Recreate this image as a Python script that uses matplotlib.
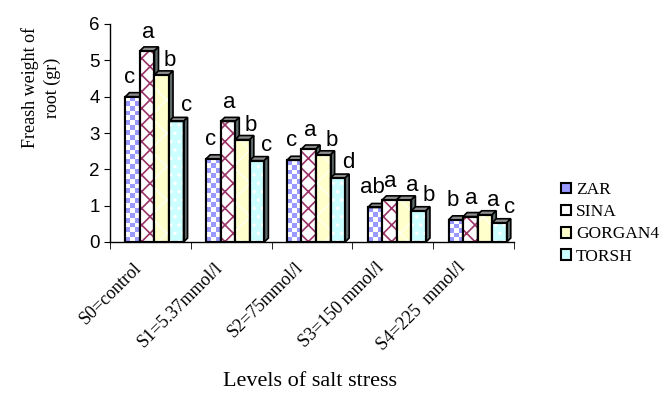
import numpy as np
import matplotlib
matplotlib.use('Agg')
import matplotlib.pyplot as plt
from matplotlib.patches import Polygon
from matplotlib.colors import ListedColormap
from matplotlib.transforms import ScaledTranslation

# Data
levels = ['S0=control', 'S1=5.37mmol/l', 'S2=75mmol/l', 'S3=150 mmol/l', 'S4=225  mmol/l']
varieties = ['ZAR', 'SINA', 'GORGAN4', 'TORSH']
zar = [4.0, 2.29, 2.25, 0.95, 0.61]
sina = [5.26, 3.32, 2.56, 1.16, 0.70]
gorgan4 = [4.60, 2.82, 2.40, 1.16, 0.75]
torsh = [3.32, 2.24, 1.76, 0.86, 0.53]
zar_letters = ['c', 'c', 'c', 'ab', 'b']
sina_letters = ['a', 'a', 'a', 'a', 'a']
gorgan4_letters = ['b', 'b', 'b', 'a', 'a']
torsh_letters = ['c', 'c', 'd', 'b', 'c']

series = [zar, sina, gorgan4, torsh]
letters = [zar_letters, sina_letters, gorgan4_letters, torsh_letters]
faces = ['#9999ff', '#ffffff', '#ffffcc', '#ccffff']
hatch_cols = [None, '#993366', '#ffffee', '#ffffff']
hatches = [None, 'xx', 'x', '..']
# letter label offsets (px right, px above bar top)
lab_dx = [-3, 1, 8, 10]
lab_dy = [14, 13, 9, 10]

plt.rcParams['hatch.linewidth'] = 1.2

fig = plt.figure(figsize=(6.6, 4.05), dpi=100)
ax = fig.add_axes([110/660, 1-242/405, 404/660, 218/405])

x = np.arange(len(levels))
w = 0.18
dx, dy = 0.05, 0.11
checker_cmap = ListedColormap(['#9999ff', '#ffffff'])

handles = []
for s, vals in enumerate(series):
    pos = x + (s - 1.5) * w + 0.05
    z = 2 + s
    b = ax.bar(pos, vals, w, color=faces[s], edgecolor='black', lw=1.5, zorder=z, label=varieties[s])
    handles.append(b)
    if hatches[s]:
        ax.bar(pos, vals, w, fill=False, hatch=hatches[s], edgecolor=hatch_cols[s], lw=0, zorder=z + 0.1)
    ax.bar(pos, vals, w, fill=False, edgecolor='black', lw=1.5, zorder=z + 0.3)
    for p, h, lt in zip(pos, vals, letters[s]):
        x0, x1 = p - w/2, p + w/2
        if s == 0:
            nrow = max(1, int(round(h * 36.3 / 4.8)))
            checker = np.add.outer(np.arange(nrow), np.arange(3)) % 2
            ax.imshow(checker, extent=[x0, x1, 0, h], cmap=checker_cmap, origin='lower',
                      interpolation='nearest', aspect='auto', zorder=z + 0.1)
        top = Polygon([(x0, h), (x0 + dx, h + dy), (x1 + dx, h + dy), (x1, h)],
                      closed=True, facecolor='#8c8c8c', edgecolor='black', lw=1.2, zorder=z + 0.2)
        side = Polygon([(x1, 0), (x1 + dx, dy), (x1 + dx, h + dy), (x1, h)],
                       closed=True, facecolor='#5f6b6b', edgecolor='black', lw=1.2, zorder=z + 0.2)
        ax.add_patch(top)
        ax.add_patch(side)
        ax.annotate(lt, (p, h), xytext=(lab_dx[s] * 0.72, lab_dy[s] * 0.72), textcoords='offset points',
                    ha='center', va='baseline', fontsize=16, family='Liberation Sans', zorder=10,
                    annotation_clip=False)

ax.set_xlim(-0.5, 4.5)
ax.set_ylim(0, 6)
ax.set_yticks(range(7))
ax.set_xticks(x)
ax.set_xticks(np.arange(-0.5, 5, 1), minor=True)
ax.tick_params(axis='x', which='major', length=0)
ax.tick_params(axis='x', which='minor', length=5, direction='out')
ax.tick_params(axis='y', length=4, direction='out', labelsize=13.5)
for lab in ax.get_yticklabels():
    lab.set_family('Liberation Sans')
ax.set_xticklabels(levels, rotation=45, ha='right', va='top', rotation_mode='anchor',
                   family='Liberation Serif', fontsize=13)
for lab in ax.get_xticklabels():
    lab.set_transform(lab.get_transform() + ScaledTranslation(-0.17, -0.12, fig.dpi_scale_trans))
for sp in ['top', 'right']:
    ax.spines[sp].set_visible(False)
ax.spines['left'].set_linewidth(1.0)
ax.spines['bottom'].set_linewidth(1.0)

fig.text(41/660, 1-88/405, 'Freash weight of\nroot (gr)', rotation=90, ha='center', va='center',
         family='Liberation Serif', fontsize=13, linespacing=1.4, multialignment='center')
fig.text(310/660, 1-381/405, 'Levels of salt stress', ha='center', va='center',
         family='Liberation Serif', fontsize=16)

fig.legend(handles=handles, labels=varieties, loc='upper left', bbox_to_anchor=(561/660, 1-182/405),
           frameon=False, prop={'family': 'Liberation Serif', 'size': 12.5},
           handlelength=0.55, handleheight=0.55, handletextpad=0.3, labelspacing=0.36,
           borderpad=0, borderaxespad=0)

fig.savefig('out.png', dpi=100)
